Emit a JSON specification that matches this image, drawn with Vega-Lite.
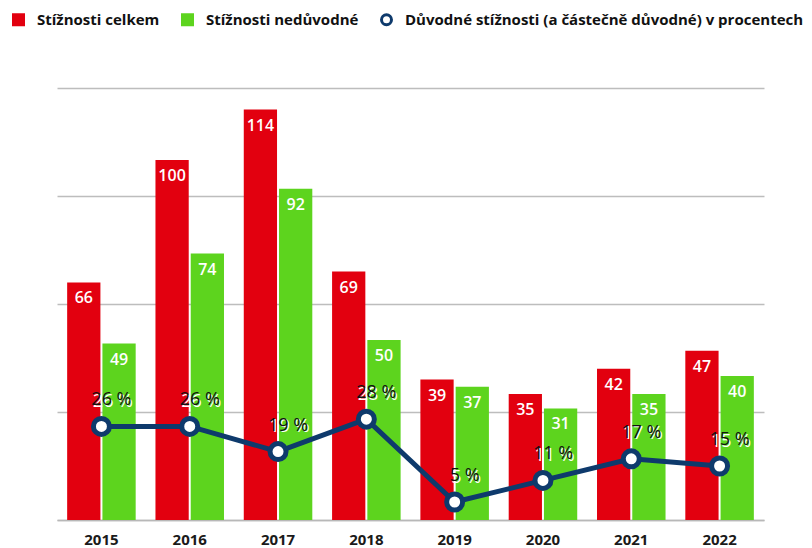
{
  "$schema": "https://vega.github.io/schema/vega-lite/v6.json",
  "width": 707,
  "height": 432,
  "autosize": {"type": "none"},
  "padding": {"left": 57, "top": 88, "right": 48, "bottom": 28},
  "background": "white",
  "config": {
    "view": {"stroke": null},
    "font": "Open Sans"
  },
  "datasets": {
    "bars": [
      {"rok": "2015", "serie": "Stížnosti celkem", "pocet": 66},
      {"rok": "2015", "serie": "Stížnosti nedůvodné", "pocet": 49},
      {"rok": "2016", "serie": "Stížnosti celkem", "pocet": 100},
      {"rok": "2016", "serie": "Stížnosti nedůvodné", "pocet": 74},
      {"rok": "2017", "serie": "Stížnosti celkem", "pocet": 114},
      {"rok": "2017", "serie": "Stížnosti nedůvodné", "pocet": 92},
      {"rok": "2018", "serie": "Stížnosti celkem", "pocet": 69},
      {"rok": "2018", "serie": "Stížnosti nedůvodné", "pocet": 50},
      {"rok": "2019", "serie": "Stížnosti celkem", "pocet": 39},
      {"rok": "2019", "serie": "Stížnosti nedůvodné", "pocet": 37},
      {"rok": "2020", "serie": "Stížnosti celkem", "pocet": 35},
      {"rok": "2020", "serie": "Stížnosti nedůvodné", "pocet": 31},
      {"rok": "2021", "serie": "Stížnosti celkem", "pocet": 42},
      {"rok": "2021", "serie": "Stížnosti nedůvodné", "pocet": 35},
      {"rok": "2022", "serie": "Stížnosti celkem", "pocet": 47},
      {"rok": "2022", "serie": "Stížnosti nedůvodné", "pocet": 40}
    ],
    "line": [
      {"rok": "2015", "procento": 26, "popis": "26 %"},
      {"rok": "2016", "procento": 26, "popis": "26 %"},
      {"rok": "2017", "procento": 19, "popis": "19 %"},
      {"rok": "2018", "procento": 28, "popis": "28 %"},
      {"rok": "2019", "procento": 5, "popis": "5 %"},
      {"rok": "2020", "procento": 11, "popis": "11 %"},
      {"rok": "2021", "procento": 17, "popis": "17 %"},
      {"rok": "2022", "procento": 15, "popis": "15 %"}
    ]
  },
  "encoding": {
    "x": {
      "field": "rok",
      "type": "nominal",
      "sort": null,
      "scale": {"paddingInner": 0.224, "paddingOuter": 0.115},
      "axis": {
        "title": null,
        "labelAngle": 0,
        "ticks": false,
        "domain": true,
        "domainColor": "#b8b8b8",
        "domainWidth": 1.5,
        "labelFont": "Open Sans",
        "labelFontSize": 15,
        "labelFontWeight": "bold",
        "labelColor": "#1a1a1a",
        "labelPadding": 12
      }
    }
  },
  "layer": [
    {
      "data": {"name": "bars"},
      "mark": {"type": "bar", "strokeWidth": 0},
      "encoding": {
        "xOffset": {
          "field": "serie",
          "type": "nominal",
          "scale": {"domain": ["Stížnosti celkem", "Stížnosti nedůvodné"], "paddingInner": 0.057}
        },
        "y": {
          "field": "pocet",
          "type": "quantitative",
          "scale": {"domain": [0, 120], "nice": false},
          "axis": {
            "title": null,
            "values": [0, 30, 60, 90, 120],
            "labels": false,
            "ticks": false,
            "domain": false,
            "grid": true,
            "gridColor": "#bdbdbd",
            "gridWidth": 1.5
          }
        },
        "color": {
          "field": "serie",
          "type": "nominal",
          "scale": {
            "domain": ["Stížnosti celkem", "Stížnosti nedůvodné", "Důvodné stížnosti (a částečně důvodné) v procentech"],
            "range": ["#e2000f", "#5dd41e", "#ffffff"]
          },
          "legend": {
            "orient": "none",
            "legendX": -46,
            "legendY": -76,
            "direction": "horizontal",
            "title": null,
            "padding": 0,
            "symbolType": "square",
            "symbolSize": 100,
            "symbolStrokeWidth": 3,
            "labelFont": "Open Sans",
            "labelFontSize": 15,
            "labelFontWeight": "bold",
            "labelColor": "#111111",
            "labelOffset": 11,
            "columnPadding": 16,
            "labelLimit": 600,
            "encode": {
              "symbols": {
                "update": {
                  "shape": {"signal": "datum.index === 2 ? 'circle' : 'square'"},
                  "strokeWidth": {"value": 3},
                  "opacity": {"value": 1}
                }
              }
            }
          }
        },
        "stroke": {
          "field": "serie",
          "type": "nominal",
          "scale": {
            "domain": ["Stížnosti celkem", "Stížnosti nedůvodné", "Důvodné stížnosti (a částečně důvodné) v procentech"],
            "range": ["#e2000f", "#5dd41e", "#0e3a6c"]
          }
        }
      }
    },
    {
      "data": {"name": "bars"},
      "mark": {"type": "text", "baseline": "middle", "dy": 16, "fontSize": 16, "fontWeight": 600, "font": "Open Sans", "color": "white"},
      "encoding": {
        "xOffset": {"field": "serie", "type": "nominal"},
        "y": {"field": "pocet", "type": "quantitative"},
        "text": {"field": "pocet", "type": "quantitative"}
      }
    },
    {
      "data": {"name": "line"},
      "mark": {"type": "line", "color": "#0e3a6c", "strokeWidth": 5},
      "encoding": {
        "y": {"field": "procento", "type": "quantitative"}
      }
    },
    {
      "data": {"name": "line"},
      "mark": {"type": "point", "shape": "circle", "size": 256, "filled": true, "fill": "white", "stroke": "#0e3a6c", "strokeWidth": 5, "opacity": 1},
      "encoding": {
        "y": {"field": "procento", "type": "quantitative"}
      }
    },
    {
      "data": {"name": "line"},
      "mark": {"type": "text", "baseline": "middle", "dy": -24.5, "dx": 11.5, "fontSize": 18, "font": "Open Sans", "color": "white"},
      "encoding": {
        "y": {"field": "procento", "type": "quantitative"},
        "text": {"field": "popis", "type": "nominal"}
      }
    },
    {
      "data": {"name": "line"},
      "mark": {"type": "text", "baseline": "middle", "dy": -26, "dx": 10, "fontSize": 18, "font": "Open Sans", "color": "#111111"},
      "encoding": {
        "y": {"field": "procento", "type": "quantitative"},
        "text": {"field": "popis", "type": "nominal"}
      }
    }
  ]
}
